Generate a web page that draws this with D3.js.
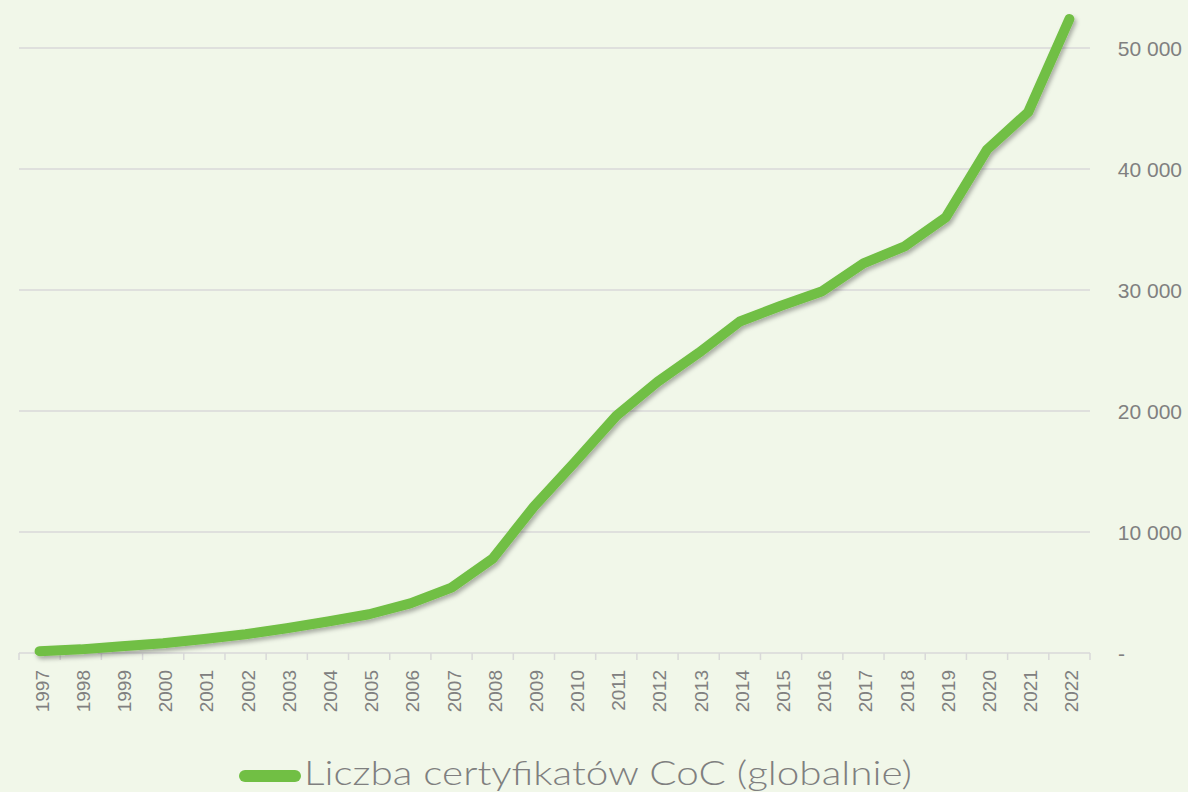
<!DOCTYPE html>
<meta charset="utf-8">
<style>
  body { margin: 0; background: #f1f7e9; }
  svg { display: block; }
</style>
<body>
  <svg width="1188" height="792"></svg>
</body>
<script src="https://cdnjs.cloudflare.com/ajax/libs/d3/7.8.5/d3.min.js"></script>
<script>

  // data
  var years = ["1997", "1998", "1999", "2000", "2001", "2002", "2003", "2004", "2005",
               "2006", "2007", "2008", "2009", "2010", "2011", "2012", "2013", "2014",
               "2015", "2016", "2017", "2018", "2019", "2020", "2021", "2022"];
  var certificates = [150, 300, 550, 800, 1150, 1550, 2050, 2600, 3200, 4100, 5400, 7800,
                      12100, 15800, 19600, 22400, 24800, 27400, 28700, 29900, 32200, 33600,
                      36000, 41600, 44700, 52400];
  var yTicks = [0, 10000, 20000, 30000, 40000, 50000];
  var seriesName = "Liczba certyfikatów CoC (globalnie)";

  var svg = d3.select("svg"),
      width = +svg.attr("width"),
      height = +svg.attr("height");

  svg.append("rect")
      .attr("width", width)
      .attr("height", height)
      .attr("fill", "#f1f7e9");

  // shadow under the line
  var defs = svg.append("defs");
  defs.append("filter")
      .attr("id", "shadow")
      .attr("x", "-5%").attr("y", "-5%")
      .attr("width", "110%").attr("height", "110%")
    .append("feDropShadow")
      .attr("dx", 2)
      .attr("dy", 3)
      .attr("stdDeviation", 2)
      .attr("flood-color", "#000")
      .attr("flood-opacity", 0.3);

  var plotLeft = 19, plotRight = 1090, plotTop = 48, plotBottom = 653;
  var labelFont = "'Liberation Sans', Arial, sans-serif";

  var x = d3.scaleBand()
      .domain(years)
      .range([plotLeft, plotRight]);

  var y = d3.scaleLinear()
      .domain([0, 50000])
      .range([plotBottom, plotTop]);

  // gridlines
  svg.append("g")
      .selectAll("line")
      .data(yTicks.filter(d => d > 0))
      .enter()
      .append("line")
      .attr("x1", plotLeft)
      .attr("x2", plotRight)
      .attr("y1", d => y(d))
      .attr("y2", d => y(d))
      .attr("stroke", "#d9d9d9")
      .attr("stroke-width", 1.5);

  // bottom axis with ticks between categories
  var xAxis = svg.append("g");
  xAxis.append("line")
      .attr("x1", plotLeft)
      .attr("x2", plotRight)
      .attr("y1", plotBottom)
      .attr("y2", plotBottom)
      .attr("stroke", "#d9d9d9")
      .attr("stroke-width", 1.5);

  var boundaries = years.map(d => x(d)).concat([plotRight]);
  xAxis.selectAll(".tick")
      .data(boundaries)
      .enter()
      .append("line")
      .attr("class", "tick")
      .attr("x1", d => d)
      .attr("x2", d => d)
      .attr("y1", plotBottom)
      .attr("y2", plotBottom + 7)
      .attr("stroke", "#d9d9d9")
      .attr("stroke-width", 1.5);

  xAxis.selectAll("text")
      .data(years)
      .enter()
      .append("text")
      .text(d => d)
      .attr("transform", d => "translate(" + (x(d) + x.bandwidth() / 2 + 9) + "," + (plotBottom + 17) + ") rotate(-90)")
      .attr("text-anchor", "end")
      .attr("font-family", labelFont)
      .attr("font-size", 19)
      .attr("fill", "#808080");

  // right axis labels
  var fmt = d => d === 0 ? "-" : d3.format(",")(d).replace(/,/g, " ");
  svg.append("g")
      .selectAll("text")
      .data(yTicks)
      .enter()
      .append("text")
      .text(fmt)
      .attr("x", d => d === 0 ? 1118 : 1182)
      .attr("y", d => y(d) + 8)
      .attr("text-anchor", d => d === 0 ? "start" : "end")
      .attr("font-family", labelFont)
      .attr("font-size", 21)
      .attr("fill", "#808080");

  // the line
  var line = d3.line()
      .x((d, i) => x(years[i]) + x.bandwidth() / 2)
      .y(d => y(d));

  svg.append("path")
      .datum(certificates)
      .attr("d", line)
      .attr("fill", "none")
      .attr("stroke", "#71bf44")
      .attr("stroke-width", 10)
      .attr("stroke-linecap", "round")
      .attr("stroke-linejoin", "round")
      .attr("filter", "url(#shadow)");

  // legend
  var legend = svg.append("g");
  legend.append("line")
      .attr("x1", 245)
      .attr("x2", 295)
      .attr("y1", 776)
      .attr("y2", 776)
      .attr("stroke", "#71bf44")
      .attr("stroke-width", 12)
      .attr("stroke-linecap", "round");

  legend.append("text")
      .text(seriesName)
      .attr("x", 304)
      .attr("y", 785)
      .attr("font-family", "Lato, sans-serif")
      .attr("font-weight", 300)
      .attr("font-size", 34)
      .attr("fill", "#7f7f7f")
      .attr("textLength", 608)
      .attr("lengthAdjust", "spacingAndGlyphs");

</script>
